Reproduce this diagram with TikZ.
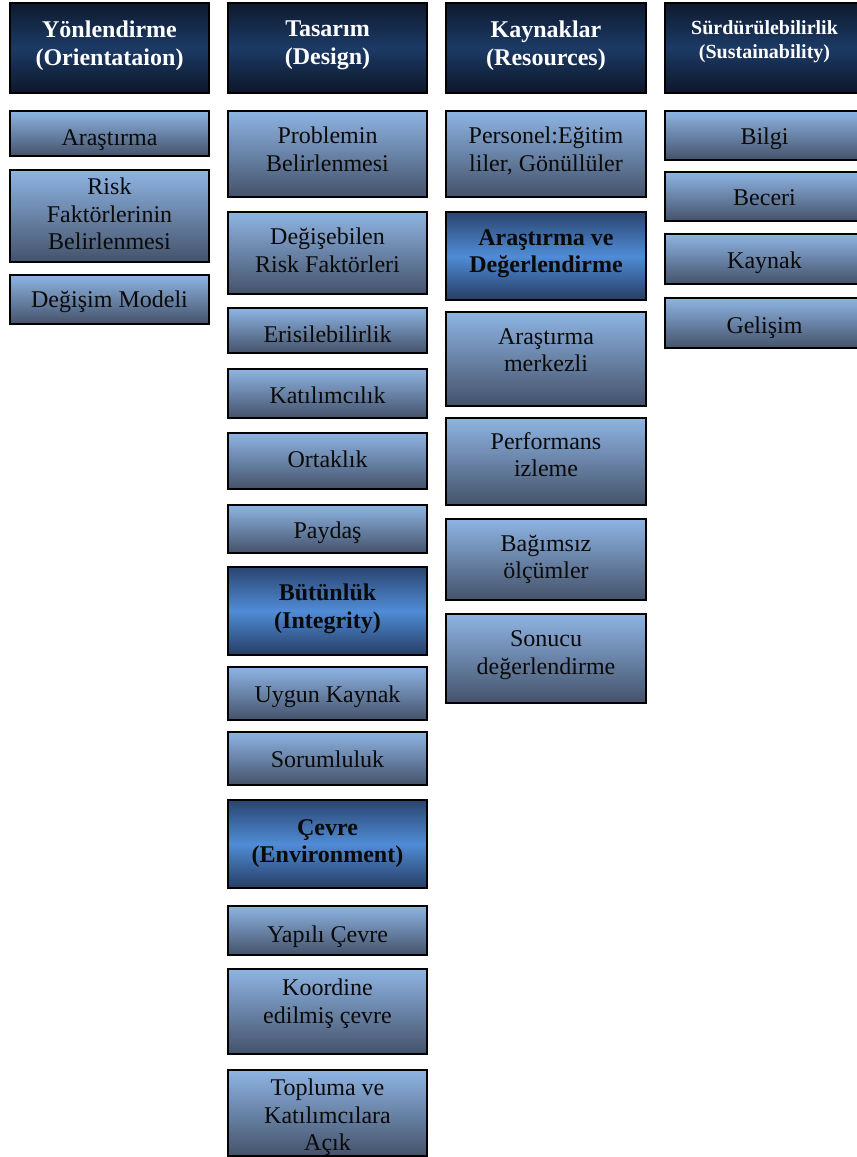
\documentclass[tikz,border=0pt]{standalone}
\usepackage{fontspec}
\setmainfont{Liberation Serif}
\definecolor{lightT}{HTML}{8EB4E3}
\definecolor{lightB}{HTML}{44526A}
\definecolor{hdT}{HTML}{0E1A2D}
\definecolor{hdM}{HTML}{1C3A66}
\definecolor{hdB}{HTML}{0D1728}
\definecolor{mT}{HTML}{2A4470}
\definecolor{mM}{HTML}{508CD6}
\definecolor{mB}{HTML}{253D64}
\definecolor{textc}{HTML}{0A0A0A}
\tikzset{
  boxbase/.style={draw=black, line width=1.4bp, inner sep=0pt},
  lbox/.style={boxbase, top color=lightT, bottom color=lightB},
  hbox/.style={boxbase, top color=hdT, bottom color=hdB, middle color=hdM},
  mbox/.style={boxbase, top color=mT, bottom color=mB, middle color=mM},
  txt/.style={anchor=north, yshift=1bp, inner sep=0pt, align=center, text=textc,
    font=\fontsize{24bp}{27.5bp}\selectfont, execute at begin node={\rule{0pt}{0.75em}}},
  mtxt/.style={txt, font=\fontsize{24bp}{27.5bp}\selectfont\bfseries},
  htxt/.style={txt, yshift=-1bp, text=white, font=\fontsize{24bp}{28bp}\selectfont\bfseries},
  hstxt/.style={txt, yshift=-2.5bp, text=white, font=\fontsize{20bp}{24bp}\selectfont\bfseries}
}
% name, box style, text style, x1, y1, x2, y2, cap top, text
\newcommand\bx[9]{%
  \node[#2, minimum width={(#6-#4)*1bp}, minimum height={(#7-#5)*1bp}] (#1) at ({(#4+#6)/2},{(#5+#7)/2}) {};
  \node[#3] (#1t) at ({(#4+#6)/2},#8) {#9};}
\begin{document}
\begin{tikzpicture}[x=1bp,y=-1bp]
\useasboundingbox (0,0) rectangle (857,1157);
\fill[white] (0,0) rectangle (857,1157);
\clip (0,0) rectangle (857,1157);
% column 1
\bx{h1}{hbox}{htxt}{10}{3}{209}{93}{20.7}{Yönlendirme\\(Orientataion)}
\bx{a1}{lbox}{txt}{10}{111}{209}{156}{128}{Araştırma}
\bx{a2}{lbox}{txt}{10}{170}{209}{262}{179}{Risk\\Faktörlerinin\\Belirlenmesi}
\bx{a3}{lbox}{txt}{10}{275}{209}{324}{290.7}{Değişim Modeli}
% column 2
\bx{h2}{hbox}{htxt}{228}{3}{427}{93}{20.7}{Tasarım\\(Design)}
\bx{b1}{lbox}{txt}{228}{111}{427}{197}{128}{Problemin\\Belirlenmesi}
\bx{b2}{lbox}{txt}{228}{212}{427}{294}{228.7}{Değişebilen\\Risk Faktörleri}
\bx{b3}{lbox}{txt}{228}{308}{427}{353}{325}{Erisilebilirlik}
\bx{b4}{lbox}{txt}{228}{369}{427}{418}{386.7}{Katılımcılık}
\bx{b5}{lbox}{txt}{228}{433}{427}{489}{450}{Ortaklık}
\bx{b6}{lbox}{txt}{228}{505}{427}{553}{521.7}{Paydaş}
\bx{b7}{mbox}{mtxt}{228}{567}{427}{655}{585}{Bütünlük\\(Integrity)}
\bx{b8}{lbox}{txt}{228}{667}{427}{720}{685}{Uygun Kaynak}
\bx{b9}{lbox}{txt}{228}{732}{427}{785}{750.7}{Sorumluluk}
\bx{b10}{mbox}{mtxt}{228}{800}{427}{888}{820}{Çevre\\(Environment)}
\bx{b11}{lbox}{txt}{228}{906}{427}{955}{925}{Yapılı Çevre}
\bx{b12}{lbox}{txt}{228}{969}{427}{1054}{980}{Koordine\\edilmiş çevre}
\bx{b13}{lbox}{txt}{228}{1070}{427}{1156}{1080}{Topluma ve\\Katılımcılara\\Açık}
% column 3
\bx{h3}{hbox}{htxt}{446}{3}{646}{93}{20.7}{Kaynaklar\\(Resources)}
\bx{c1}{lbox}{txt}{446}{111}{646}{197}{128}{Personel:Eğitim\\liler, Gönüllüler}
\bx{c2}{mbox}{mtxt}{446}{212}{646}{300}{230}{Araştırma ve\\Değerlendirme}
\bx{c3}{lbox}{txt}{446}{312}{646}{406}{329}{Araştırma\\merkezli}
\bx{c4}{lbox}{txt}{446}{418}{646}{505}{433.3}{Performans\\izleme}
\bx{c5}{lbox}{txt}{446}{519}{646}{600}{535.7}{Bağımsız\\ölçümler}
\bx{c6}{lbox}{txt}{446}{614}{646}{703}{631.7}{Sonucu\\değerlendirme}
% column 4
\bx{h4}{hbox}{hstxt}{665}{3}{864}{93}{19.3}{Sürdürülebilirlik\\(Sustainability)}
\bx{d1}{lbox}{txt}{665}{111}{864}{160}{127.7}{Bilgi}
\bx{d2}{lbox}{txt}{665}{172}{864}{221}{188.3}{Beceri}
\bx{d3}{lbox}{txt}{665}{234}{864}{284}{251.7}{Kaynak}
\bx{d4}{lbox}{txt}{665}{298}{864}{348}{316.7}{Gelişim}
\end{tikzpicture}
\end{document}
